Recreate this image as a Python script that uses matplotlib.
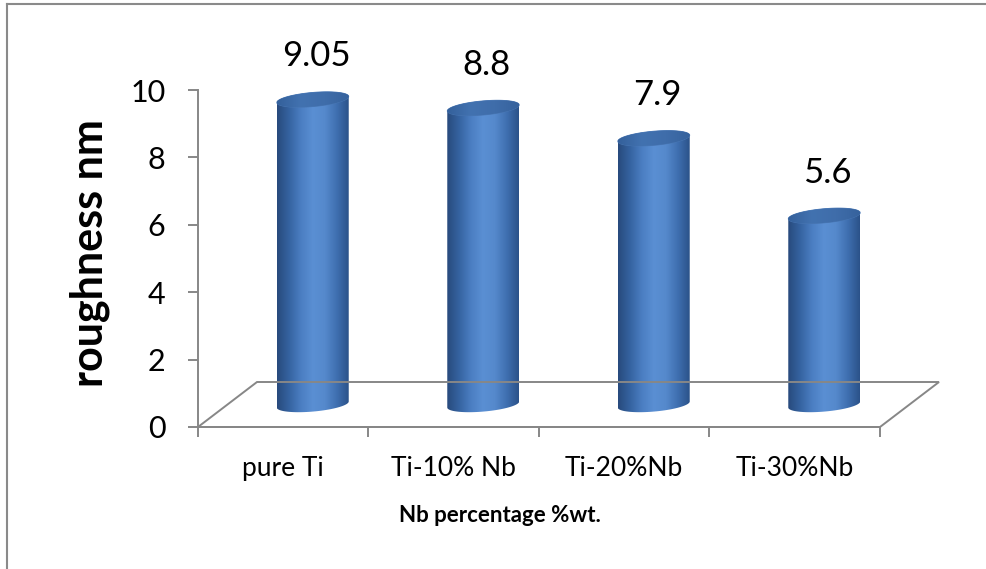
import numpy as np
import matplotlib
matplotlib.use("Agg")
import matplotlib.pyplot as plt
from matplotlib.path import Path
from matplotlib.patches import PathPatch, Polygon
from matplotlib.colors import LinearSegmentedColormap
from matplotlib.transforms import ScaledTranslation, IdentityTransform
from matplotlib.lines import Line2D

categories = ["pure Ti", "Ti-10% Nb", "Ti-20%Nb", "Ti-30%Nb"]
roughness = [9.05, 8.8, 7.9, 5.6]
y_ticks = [0, 2, 4, 6, 8, 10]
y_title = "roughness nm"
x_title = "Nb percentage %wt."

plt.rcParams["font.family"] = ["Lato", "DejaVu Sans"]
GRAY = "#878787"

W, H, DPI = 987, 569, 100
fig = plt.figure(figsize=(W / DPI, H / DPI), dpi=DPI)
ax = fig.add_axes([198 / W, 142 / H, 682 / W, 337 / H])
ax.set_xlim(-0.5, len(categories) - 0.5)
ax.set_ylim(0, 10)
ax.patch.set_alpha(0)

# oblique depth of the 3-D floor (inches), cylinders sit at half depth
depth_dx, depth_dy = 0.59, 0.45
full_off = ax.transData + ScaledTranslation(depth_dx, depth_dy, fig.dpi_scale_trans)
half_off = ax.transData + ScaledTranslation(depth_dx / 2, depth_dy / 2, fig.dpi_scale_trans)

# floor outline
x0, x1 = ax.get_xlim()
corners_front = ax.transData.transform([(x0, 0), (x1, 0)])
corners_back = full_off.transform([(x0, 0), (x1, 0)])
floor = Polygon([corners_front[0], corners_front[1], corners_back[1], corners_back[0]],
                closed=True, fill=False, edgecolor=GRAY, lw=1.4,
                transform=IdentityTransform(), zorder=1, clip_on=False)
fig.add_artist(floor)

# cylinder geometry (data units)
half_w = 0.211
ell_b = 0.21
ell_s = 0.09

body_cmap = LinearSegmentedColormap.from_list(
    "body", ["#284a7c", "#3563a0", "#4b7ec2", "#5a8fd3", "#5589cc", "#3f6fb0", "#2b5289"])
top_cmap = LinearSegmentedColormap.from_list(
    "top", ["#34609b", "#4272b0", "#3f6daa", "#36629d"])

t = np.linspace(0, np.pi, 60)
for i, v in enumerate(roughness):
    cx = i
    # body outline: left side, back half of top ellipse, right side, front half of bottom
    left_bot = (cx - half_w, 0 - ell_s)
    top_back = np.column_stack([cx + half_w * np.cos(t[::-1]),
                                v + ell_b * np.sin(t[::-1]) + ell_s * np.cos(t[::-1])])
    bot_front = np.column_stack([cx + half_w * np.cos(-t),
                                 0 + ell_b * np.sin(-t) + ell_s * np.cos(-t)])
    verts = np.vstack([[left_bot], top_back, bot_front, [left_bot]])
    body = PathPatch(Path(verts, closed=True), facecolor="none", edgecolor="none",
                     transform=half_off, zorder=3)
    ax.add_patch(body)
    grad = np.linspace(0, 1, 256).reshape(1, -1)
    im = ax.imshow(grad, cmap=body_cmap, aspect="auto",
                   extent=[cx - half_w, cx + half_w, -0.6, v + 0.6],
                   transform=half_off, zorder=3, interpolation="bilinear")
    im.set_clip_path(body)

    tt = np.linspace(0, 2 * np.pi, 120)
    top_verts = np.column_stack([cx + half_w * np.cos(tt),
                                 v + ell_b * np.sin(tt) + ell_s * np.cos(tt)])
    top = PathPatch(Path(top_verts, closed=True), facecolor="none",
                    edgecolor="#4a78b5", lw=0.6, transform=half_off, zorder=4)
    ax.add_patch(top)
    im2 = ax.imshow(grad, cmap=top_cmap, aspect="auto",
                    extent=[cx - half_w, cx + half_w, v - 0.5, v + 0.5],
                    transform=half_off, zorder=4, interpolation="bilinear")
    im2.set_clip_path(top)

    ax.annotate(f"{v:g}", xy=(cx, v), xycoords=half_off,
                xytext=(2.5, 31), textcoords="offset points",
                ha="center", va="center", fontsize=25, color="black",
                annotation_clip=False)

ax.set_xlim(-0.5, len(categories) - 0.5)
ax.set_ylim(0, 10)

for side in ["top", "right"]:
    ax.spines[side].set_visible(False)
for side in ["left", "bottom"]:
    ax.spines[side].set_color(GRAY)
    ax.spines[side].set_linewidth(1.4)

ax.set_yticks(y_ticks)
ax.set_yticklabels([str(y) for y in y_ticks])
ax.tick_params(axis="y", direction="out", length=7.5, width=1.4, color=GRAY,
               labelsize=22, pad=16)

ax.set_xticks(range(len(categories)))
ax.set_xticklabels(categories)
ax.set_xticks(np.arange(-0.5, len(categories), 1.0), minor=True)
ax.tick_params(axis="x", which="major", length=0, labelsize=19, pad=21)
ax.tick_params(axis="x", which="minor", direction="out", length=7.5, width=1.4,
               color=GRAY)

fig.text(89.5 / W, 1 - 253 / H, y_title, rotation=90, ha="center", va="center",
         fontsize=31, fontweight="bold")
fig.text(500 / W, 1 - 516 / H, x_title, ha="center", va="center",
         fontsize=16, fontweight="bold")

# outer chart frame
fig.add_artist(Line2D([6.5 / W, 6.5 / W], [0, 1 - 4 / H], transform=fig.transFigure,
                      color="#8a8a8a", lw=1.5))
fig.add_artist(Line2D([6.5 / W, 1], [1 - 4 / H, 1 - 4 / H], transform=fig.transFigure,
                      color="#8a8a8a", lw=1.5))

fig.savefig("out.png", dpi=DPI)
